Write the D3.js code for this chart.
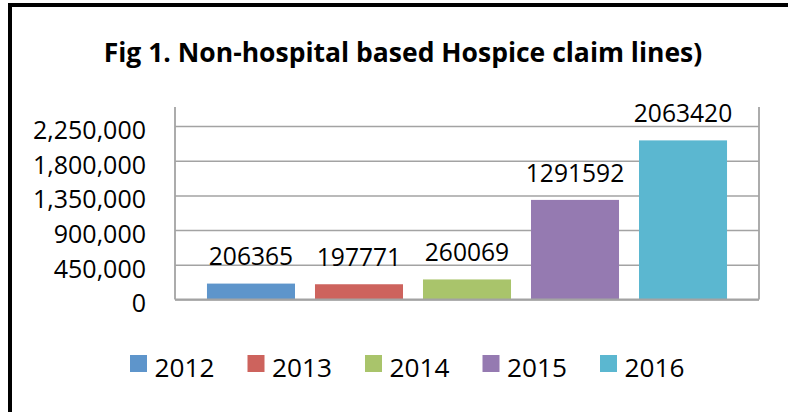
<!DOCTYPE html>
<html>
<head>
<meta charset="utf-8">
<script src="https://cdn.jsdelivr.net/npm/d3@7"></script>
<style>
  html, body { margin: 0; padding: 0; background: #fff; }
  svg { display: block; }
  text { font-family: "Open Sans", Lato, sans-serif; fill: #000; }
</style>
</head>
<body>
<svg id="chart" width="788" height="412"></svg>
<script>
// ---- data ----
const titleText = "Fig 1. Non-hospital based Hospice claim lines)";
const years = ["2012", "2013", "2014", "2015", "2016"];
const claimLines = [206365, 197771, 260069, 1291592, 2063420];
const colors = ["#5E95CB", "#CD635D", "#A9C46B", "#957AB1", "#5BB7D0"];
const yTicks = [0, 450000, 900000, 1350000, 1800000, 2250000];

// ---- layout ----
const W = 788, H = 412;
const plot = { left: 175, right: 759, top: 107, bottom: 299.5 };

const svg = d3.select("#chart");
svg.append("rect").attr("x", 0).attr("y", 0).attr("width", W).attr("height", H).attr("fill", "#fff");

// outer border (extends beyond right/bottom edges)
svg.append("rect")
  .attr("x", 10).attr("y", 5).attr("width", 820).attr("height", 440)
  .attr("fill", "none").attr("stroke", "#000").attr("stroke-width", 4);

// title
svg.append("text")
  .attr("x", 403).attr("y", 62)
  .attr("text-anchor", "middle")
  .attr("font-weight", "bold")
  .attr("font-size", 26.5)
  .text(titleText);

// scales
const y = d3.scaleLinear().domain([0, 2250000]).range([plot.bottom, 126]);
const x = d3.scaleBand().domain(years).range([plot.left, plot.right])
  .paddingInner(0.185).paddingOuter(0.296);

// gridlines + y axis labels
const yAxis = d3.axisLeft(y)
  .tickValues(yTicks)
  .tickFormat(d3.format(","))
  .tickSizeInner(-(plot.right - plot.left))
  .tickSizeOuter(0)
  .tickPadding(29);

const gy = svg.append("g").attr("transform", `translate(${plot.left},0)`).call(yAxis);
gy.select(".domain").remove();
gy.selectAll(".tick line").attr("stroke", "#a3a3a3").attr("stroke-width", 1.5);
gy.selectAll(".tick text")
  .attr("font-size", 25)
  .attr("font-family", "'Open Sans', Lato, sans-serif")
  .attr("fill", "#000")
  .attr("y", 4.3);

// plot area side lines
svg.append("line").attr("x1", plot.left).attr("x2", plot.left)
  .attr("y1", plot.top).attr("y2", plot.bottom)
  .attr("stroke", "#a3a3a3").attr("stroke-width", 1.8);
svg.append("line").attr("x1", plot.right).attr("x2", plot.right)
  .attr("y1", plot.top).attr("y2", plot.bottom)
  .attr("stroke", "#a3a3a3").attr("stroke-width", 1.8);

// bars
svg.append("g").selectAll("rect")
  .data(years)
  .join("rect")
  .attr("x", d => x(d))
  .attr("width", x.bandwidth())
  .attr("y", (d, i) => y(claimLines[i]))
  .attr("height", (d, i) => y(0) - y(claimLines[i]))
  .attr("fill", (d, i) => colors[i]);

// baseline redraw on top
svg.append("line").attr("x1", plot.left).attr("x2", plot.right)
  .attr("y1", y(0)).attr("y2", y(0))
  .attr("stroke", "#a3a3a3").attr("stroke-width", 1.8);

// data labels
svg.append("g").selectAll("text")
  .data(years)
  .join("text")
  .attr("x", d => x(d) + x.bandwidth() / 2)
  .attr("y", (d, i) => y(claimLines[i]) - 18.4)
  .attr("text-anchor", "middle")
  .attr("font-size", 24.6)
  .text((d, i) => String(claimLines[i]));

// legend
const leg = svg.append("g").selectAll("g")
  .data(years)
  .join("g")
  .attr("transform", (d, i) => `translate(${130 + i * 117.5},0)`);
leg.append("rect").attr("x", 0).attr("y", 355).attr("width", 17).attr("height", 17)
  .attr("fill", (d, i) => colors[i]);
leg.append("text").attr("x", 24.5).attr("y", 377).attr("font-size", 26.2).text(d => d);
</script>
</body>
</html>
